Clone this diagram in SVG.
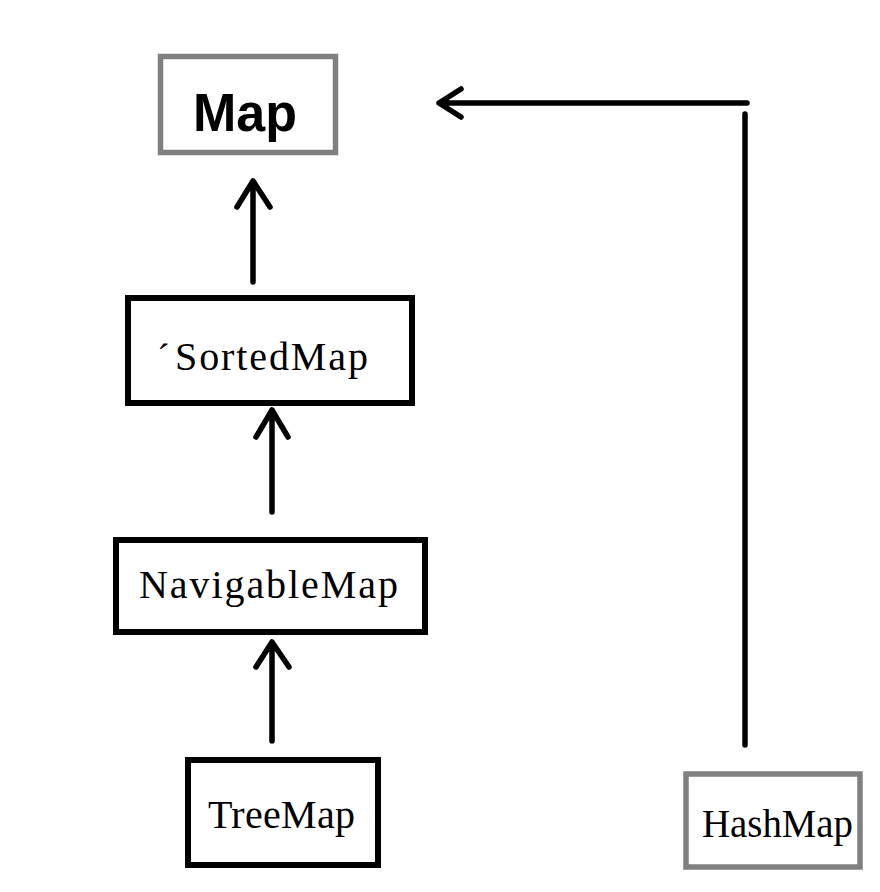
<svg xmlns="http://www.w3.org/2000/svg" width="880" height="892" viewBox="0 0 880 892">
<style>
.box{fill:#fff;stroke:#000;stroke-width:6}
.gbox{fill:#fff;stroke:#808080;stroke-width:5.5}
.lbl{font-family:"Liberation Serif","Noto Serif CJK SC",serif;font-size:40px;fill:#000}
.edge{fill:none;stroke:#000;stroke-width:5.5;stroke-linecap:round;stroke-linejoin:round}
</style>
<rect width="880" height="892" fill="#fff"/>
<g id="node-map">
<rect class="gbox" x="160.5" y="56.5" width="175" height="96"/>
<text x="193" y="131" font-family="Liberation Sans, Arial, sans-serif" font-weight="bold" font-size="54" textLength="104" lengthAdjust="spacingAndGlyphs">Map</text>
</g>
<g id="node-sortedmap">
<rect class="box" x="128" y="298" width="284" height="105"/>
<text class="lbl" y="370"><tspan x="157" font-size="38">´</tspan><tspan x="175" textLength="193" lengthAdjust="spacing">SortedMap</tspan></text>
</g>
<g id="node-navigablemap">
<rect class="box" x="116" y="540" width="309" height="92"/>
<text class="lbl" x="139" y="598" textLength="259" lengthAdjust="spacing">NavigableMap</text>
</g>
<g id="node-treemap">
<rect class="box" x="188" y="760" width="190" height="105"/>
<text class="lbl" x="208" y="828" textLength="147" lengthAdjust="spacing">TreeMap</text>
</g>
<g id="node-hashmap">
<rect class="gbox" x="686" y="774" width="174" height="93"/>
<text class="lbl" x="702" y="837" textLength="151" lengthAdjust="spacingAndGlyphs">HashMap</text>
</g>
<g id="connectors">
<path class="edge" d="M253 282 V181 M237 207 L253 181 L270 207"/>
<path class="edge" d="M272 512 V410 M256 437 L272 410 L288 437"/>
<path class="edge" d="M272 741 V642 M256 667 L272 642 L289 667"/>
<path class="edge" d="M745 745 V114"/>
<path class="edge" d="M747 103 H439 M461 89 L439 103 L461 117"/>
</g>
</svg>
